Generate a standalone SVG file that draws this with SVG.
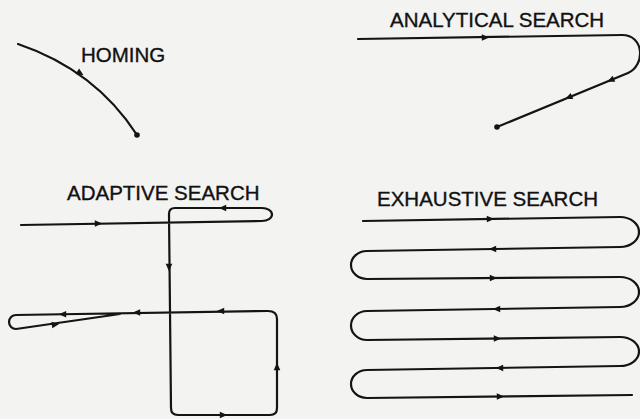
<svg xmlns="http://www.w3.org/2000/svg" width="640" height="419" viewBox="0 0 640 419">
<defs>
<style>
.bg{fill:#f3f3f1}
.ln{fill:none;stroke:#141414;stroke-width:2.2;stroke-linecap:round;stroke-linejoin:round}
.lbl{font-family:"Liberation Sans",Arial,sans-serif;font-size:20.5px;fill:#111;stroke:#111;stroke-width:0.35}
.ah{fill:#141414}
</style>
<path id="arr" d="M4.2,0 L-3.2,-3.3 L-3.2,3.3 Z"/>
</defs>
<rect class="bg" x="0" y="0" width="640" height="419"/>

<g id="homing">
<path class="ln" d="M18,44 Q95,70 137,135"/>
<use href="#arr" class="ah" transform="translate(80,73) rotate(33)"/>
<circle class="ah" cx="137" cy="135" r="2.8"/>
<text class="lbl" x="81" y="61.5">HOMING</text>
</g>

<g id="analytical">
<path class="ln" d="M358,39 L622,35 C645,35 645,66 628,73 L497,127"/>
<use href="#arr" class="ah" transform="translate(485,37.5) rotate(-1)"/>
<use href="#arr" class="ah" transform="translate(611,80) rotate(157)"/>
<use href="#arr" class="ah" transform="translate(569,97.3) rotate(157)"/>
<circle class="ah" cx="497" cy="127" r="2.8"/>
<text class="lbl" x="390" y="27">ANALYTICAL SEARCH</text>
</g>

<g id="adaptive">
<path class="ln" d="M21,225 L262,221 A10,6.5 0 0 0 262,208 L175,208 Q169,208 169,214 L171,408 Q171,415 178,415 L270,415 Q277,415 277,408 L277,319 Q277,311 268,311 L16,315 A7,7 0 0 0 16,329 L120,314"/>
<use href="#arr" class="ah" transform="translate(98,223.5) rotate(-1)"/>
<use href="#arr" class="ah" transform="translate(223,208) rotate(180)"/>
<use href="#arr" class="ah" transform="translate(169,267) rotate(90)"/>
<use href="#arr" class="ah" transform="translate(221,311) rotate(180)"/>
<use href="#arr" class="ah" transform="translate(277,367) rotate(-90)"/>
<use href="#arr" class="ah" transform="translate(223,415) rotate(0)"/>
<use href="#arr" class="ah" transform="translate(63,314.3) rotate(180)"/>
<use href="#arr" class="ah" transform="translate(55,324.5) rotate(-8)"/>
<use href="#arr" class="ah" transform="translate(137,312.5) rotate(180)"/>
<text class="lbl" x="67" y="200">ADAPTIVE SEARCH</text>
</g>

<g id="exhaustive">
<path class="ln" d="M363,221 L620,217 A19,15 0 0 1 620,247 L367,251 A16,14 0 0 0 367,279 L620,277 A19,15 0 0 1 620,307 L367,311 A16,14.5 0 0 0 367,340 L620,337 A19,14.5 0 0 1 620,366 L367,370 A16,14 0 0 0 367,398 L632,395"/>
<use href="#arr" class="ah" transform="translate(490,219) rotate(-1)"/>
<use href="#arr" class="ah" transform="translate(493,249) rotate(179)"/>
<use href="#arr" class="ah" transform="translate(493,278) rotate(-0.5)"/>
<use href="#arr" class="ah" transform="translate(497,309) rotate(179)"/>
<use href="#arr" class="ah" transform="translate(497,338.5) rotate(-0.7)"/>
<use href="#arr" class="ah" transform="translate(500,368) rotate(179)"/>
<use href="#arr" class="ah" transform="translate(500,396.5) rotate(-0.5)"/>
<text class="lbl" x="377" y="206">EXHAUSTIVE SEARCH</text>
</g>
</svg>
